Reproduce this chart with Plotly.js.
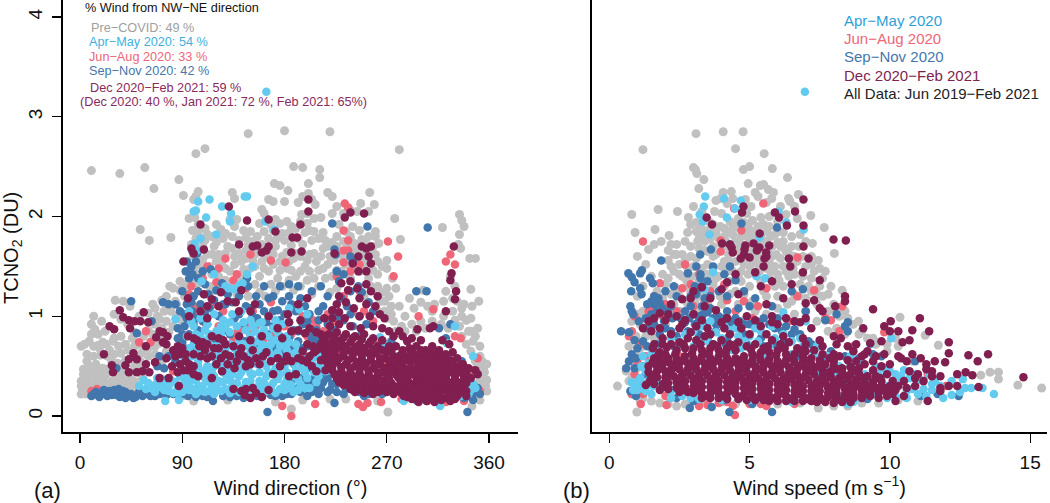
<!DOCTYPE html>
<html><head><meta charset="utf-8">
<script src="https://cdn.plot.ly/plotly-3.0.1.min.js"></script>
<style>html,body{margin:0;padding:0;background:#fff}#p{width:1050px;height:503px}</style>
</head><body><div id="p"></div>
<script>
const dirTicks=[0,90,180,270,360];
const speedTicks=[0,5,10,15];
const tcnoTicks=[0,1,2,3,4];
// Panel (a): [wind direction, TCNO2]
const preCovidDir=[[10,2.46],[35,2.43],[57,2.49],[87,2.37],[65,2.28],[91,2.21],[102,2.63],[110,2.68],[148,2.83],[180,2.86],[220,2.85],[281,2.67],[188,2.5],[196,2.49],[211,2.47],[211,2.39],[171,2.33],[176,2.31],[183,2.26],[201,2.33],[201,2.23],[218,2.24],[222,2.2],[255,2.24],[259,2.12],[247,2.13],[134,2.24],[136,2.18],[104,2.25],[102,2.2],[100,2.17],[166,2.17],[170,2.15],[180,2.15],[192,2.14],[196,2.2],[204,2.17],[207,2.12],[160,2.07],[162,2.03],[222,2.03],[232,2.03],[238,2.06],[244,2.05],[254,2.05],[277,1.98],[319,1.89],[334,2.02],[336,1.96],[338,1.9],[334,1.82],[333,1.72],[335,1.68],[343,1.58],[348,1.58],[53,1.87],[61,1.76],[80,1.79],[282,1.77],[263,1.73],[260,1.85],[260,1.8],
[96,1.98],[101,1.99],[99,1.86],[104,1.84],[106,1.78],[110,1.76],[116,1.8],[124,1.87],[128,1.83],[132,1.97],[138,1.97],[144,1.86],[150,1.85],[152,1.75],[158,1.93],[160,1.72],[164,1.97],[170,1.86],[174,1.79],[178,1.83],[182,1.95],[186,1.71],[190,1.88],[195,2.02],[200,1.93],[206,1.98],[212,1.99],[206,1.85],[214,1.84],[222,1.74],[228,1.92],[232,1.75],[238,1.8],[244,1.72],[248,1.77],[254,1.8],[258,1.7],[98,1.72],[104,1.65],[112,1.62],[118,1.7],[125,1.55],[130,1.7],[136,1.6],[142,1.55],[148,1.72],[154,1.62],[160,1.55],[166,1.66],[172,1.7],[178,1.6],[184,1.55],[190,1.63],[196,1.72],[202,1.62],[208,1.55],[214,1.68],[220,1.6],[226,1.7],[232,1.56],[238,1.62],[244,1.58],[250,1.55],[256,1.62],[262,1.55],[98,1.5],[106,1.42],[114,1.5],[122,1.4],[132,1.45],[140,1.4],[150,1.48],[158,1.4],[166,1.45],[174,1.38],[182,1.48],[190,1.4],[198,1.5],[206,1.38],[214,1.48],[222,1.4],[230,1.45],[238,1.38],[246,1.45],[254,1.38],[262,1.42],[270,1.48],[275,1.38],[278,1.28],[272,1.2],[281,1.1],[286,1.0],[294,1.08],[300,1.14],[306,1.1],[312,1.12],[322,1.25],[326,1.4],[330,1.3],[332,1.15],[338,1.12],[344,1.27],[351,1.15],[350,.88],[344,.98],[336,1.0],[328,1.05],[320,1.0],[310,.95],[300,.95],[292,.92],[283,.9],[276,.95],[268,1.05],[264,1.15],[258,1.26],[250,1.2],[342,.85],[336,.8],[346,.75],[352,.6],[358,.52],[356,.44],[358,.36],[354,.3],[358,.25],[350,.22],[345,.22],[355,.48],[348,.55],[344,.65],
[1,.7],[4,.72],[8,.75],[12,.7],[17,.68],[23,.72],[29,.75],[3,.47],[8,.5],[14,.52],[20,.48],[28,.55],[33,.53],[1,.35],[6,.38],[12,.4],[18,.36],[23,.42],[28,.35],[34,.4],[40,.38],[2,.27],[8,.25],[15,.3],[22,.28],[36,.3],[44,.3],[50,.28],[1,.22],[5,.22],[12,.21],[20,.23],[10,.92],[13,.87],[19,.95],[30,.78],[36,.8],[40,.72],[46,.78],[52,.72],[57,.7],[63,.75],[60,.86],[66,.92],[70,.97],[74,1.05],[66,1.08],[72,1.16],[77,1.12],[82,1.28],[88,1.26],[79,1.3],[85,1.0],[90,.95],[52,1.0],[38,1.15],[31,1.16],[44,1.1],[47,.6],[53,.55],[60,.6],[66,.62],[72,.55],[76,.65],[55,.4],[62,.3],[68,.25],[75,.2],[87,.2],[271,.04],[186,.07],[296,.16],[306,.17],[315,.14],[338,.16],[345,.1],[352,.16],[262,.15],[234,.17],[220,.17],[196,.16],[172,.14],[130,.16],[100,.15],[90,.2]];
const preCovidDirDense=[[1,.3],[4,.31],[7,.33],[10,.3],[14,.35],[18,.31],[22,.34],[26,.3],[30,.32],[34,.34],[38,.33],[42,.35],[46,.36],[50,.34],[3,.42],[7,.44],[11,.46],[15,.45],[19,.42],[24,.47],[30,.46],[36,.46],[40,.45],[44,.42],[48,.5],[52,.47],[57,.47],[16,.71],[20,.74],[26,.66],[34,.7],[42,.66],[48,.7],[54,.63],[60,.68],[66,.7],[70,.73],[74,.78],[78,.84],[82,.9],[72,.88],[64,.82],[56,.8],[48,.84],[42,.92],[36,.97],[30,1.02],[22,.85],[16,.82],[10,.82],[12,1.0],[6,.62],[12,.6],[18,.61],[24,.6],[30,.62],[36,.63],[6,.55],[40,.56],[76,.95],[80,1.05],[84,1.15],[76,1.2],[68,1.0],[60,1.03],[88,1.35],[92,1.32],[85,1.12],[64,1.12],
[92,1.2],[96,1.3],[100,1.36],[104,1.33],[110,1.22],[114,1.3],[118,1.26],[124,1.25],[128,1.36],[134,1.32],[138,1.22],[144,1.3],[148,1.2],[154,1.32],[158,1.24],[163,1.2],[168,1.32],[172,1.25],[178,1.3],[184,1.36],[188,1.26],[194,1.3],[200,1.36],[204,1.22],[210,1.3],[216,1.38],[220,1.24],[226,1.28],[256,1.3],[262,1.3],[266,1.24],[270,1.28],[274,1.1],[268,1.15],[262,1.05],
[100,1.46],[104,1.52],[110,1.48],[116,1.42],[120,1.55],[128,1.48],[136,1.52],[144,1.47],[146,1.58],[154,1.5],[162,1.48],[170,1.52],[176,1.46],[180,1.54],[186,1.46],[194,1.45],[202,1.45],[210,1.46],[218,1.52],[226,1.46],[234,1.52],[242,1.5],[250,1.48],[258,1.46],[266,1.5],[270,1.56],[100,1.6],[108,1.57],[116,1.62],[122,1.62],[128,1.63],[134,1.68],[140,1.63],[146,1.66],[152,1.56],[158,1.65],[164,1.6],[170,1.62],[176,1.55],[182,1.64],[188,1.58],[194,1.6],[200,1.56],[206,1.63],[212,1.6],[218,1.7],[224,1.56],[230,1.62],[236,1.7],[242,1.66],[248,1.62],[254,1.68],[260,1.62],[102,1.78],[108,1.7],[112,1.82],[120,1.74],[126,1.78],[134,1.8],[140,1.76],[146,1.79],[156,1.8],[162,1.85],[166,1.78],[172,1.76],[180,1.76],[184,1.84],[192,1.78],[198,1.84],[204,1.76],[210,1.78],[216,1.76],[226,1.8],[234,1.85],[240,1.74],[246,1.86],[252,1.72],[104,1.92],[110,1.88],[120,1.92],[136,1.9],[168,1.92],[172,1.97],[176,1.93],[186,1.9],[194,1.95],[200,2.03],[202,1.86],[226,2.1],[240,1.9],
[270,.98],[274,1.02],[278,.85],[286,.85],[296,.85],[304,.88],[310,1.05],[318,.92],[324,.88],[330,.96],[334,.9],[340,.72],[344,.85],[348,.8],[352,.7],[350,.5],[354,.55],[352,.36],[348,.3],[355,.38],[351,.27],[357,.3],[340,.96],[336,1.08],[345,1.1],[328,1.18],[320,1.15],[290,1.18],[302,1.26]];
const aprMayDir=[[164,3.25],[104,2.15],[114,2.17],[125,2.1],[133,2.03],[102,2.06],[100,2.05],[111,1.99],[132,1.95],[147,2.2],[145,2.2],[163,1.95],[171,1.87],[120,1.82],[106,1.78],[101,1.73],[103,1.66],
[107,1.35],[118,1.42],[128,1.3],[131,1.28],[136,1.27],[140,1.31],[143,1.33],[147,1.42],[152,1.5],[184,1.08],[193,1.07],[200,1.02],[96,1.05],[84,.97],[98,.95],[106,.98],[118,1.02],[126,.96],[134,1.02],[142,1.05],[150,.96],[158,.93],[166,1.0],[172,.96],[138,.9],[146,.86],[154,.85],[162,.86],[128,.88],[120,.85],[110,.86],[102,.82],[94,.8],[100,.72],[108,.74],[116,.7],[124,.76],[132,.72],[140,.74],[148,.7],[156,.75],[164,.7],[172,.76],[180,.72],[138,.62],[148,.58],[158,.6],[168,.62],[178,.58],[186,.62],[112,.58],[120,.56],[104,.55],
[56,.36],[62,.3],[68,.38],[74,.32],[80,.36],[86,.28],[92,.34],[98,.4],[104,.3],[110,.38],[116,.28],[122,.35],[128,.42],[134,.3],[140,.4],[146,.34],[152,.42],[158,.35],[164,.4],[170,.33],[176,.42],[182,.36],[188,.4],[194,.32],[200,.38],[206,.44],[212,.5],[58,.27],[66,.24],[74,.26],[82,.23],[90,.24],[96,.26],[102,.22],[110,.24],[118,.22],[124,.25],[132,.23],[140,.24],[148,.22],[156,.24],[164,.25],[172,.23],[180,.26],[188,.24],[92,.45],[100,.48],[108,.45],[116,.44],[124,.5],[132,.48],[140,.5],[148,.48],[156,.52],[164,.5],[172,.48],[180,.5],[188,.52],[196,.48],[204,.56],[210,.6],[75,.15],[87,.16],[52,.3],[264,.79],[268,.72],[280,.6],[330,.9],[323,.73],[346,.6],[346,.32],[338,.25],[335,.2],[317,.1],[285,.15]];
const aprMayDirDense=[[60,.33],[66,.31],[72,.37],[78,.3],[84,.34],[90,.3],[96,.33],[102,.36],[108,.3],[114,.34],[120,.3],[126,.34],[132,.36],[138,.33],[144,.28],[150,.35],[156,.29],[162,.33],[168,.3],[174,.37],[180,.32],[186,.31],[192,.37],[198,.28],[64,.27],[70,.29],[78,.25],[86,.23],[94,.29],[100,.27],[106,.25],[114,.25],[120,.26],[128,.27],[136,.26],[144,.25],[152,.27],[160,.28],[168,.26],[176,.27],[184,.28],[192,.26],[88,.4],[94,.4],[102,.42],[110,.43],[118,.4],[126,.44],[134,.42],[142,.44],[150,.43],[158,.44],[166,.44],[174,.46],[182,.44],[190,.46],[198,.44],[206,.5],[96,.52],[104,.5],[112,.5],[118,.5],[128,.55],[136,.54],[144,.55],[152,.56],[160,.55],[168,.56],[176,.54],[184,.56],[192,.55],[200,.58],[92,.58],[98,.6],[106,.62],[114,.64],[122,.62],[130,.62],[142,.64],[150,.64],[158,.66],[166,.66],[174,.64],[182,.66],[190,.64],[96,.68],[104,.68],[112,.76],[120,.7],[128,.68],[136,.68],[144,.72],[152,.68],[160,.72],[168,.72],[176,.7],[184,.74],[190,.72],[106,.8],[114,.82],[124,.82],[132,.84],[140,.8],[150,.8],[158,.82],[166,.8],[174,.84],[182,.8],[100,.9],[112,.92],[124,.9],[132,.94],[144,.94],[152,.9],[160,.94],[170,.88],[178,.92],[210,.4],[216,.45],[202,.28],[208,.34],[340,.34],[344,.26],[342,.22],[348,.28]];
const junAugDir=[[128,1.58],[150,1.62],[168,1.56],[181,1.54],[233,2.13],[236,2.09],[232,1.86],[236,1.76],[232,1.66],[236,1.66],[271,1.75],[280,1.6],[276,1.4],[246,1.52],[238,1.45],[322,1.55],[326,1.62],[330,1.52],[298,1.0],[311,1.07],[330,.8],[335,.78],[350,.58],[346,.46],[352,.25],[338,.15],[322,.14],[306,.15],[283,.17],[265,.14],[245,.12],[249,.09],[253,.13],[207,.12],[186,0],[178,.1],[167,.22],[232,1.2],[218,1.02],[205,.96],[196,1.0],[180,.9],[168,.78],[150,.82],[135,.76],[128,.7],[105,1.1],[96,1.22],[112,1.5],[120,1.34],[108,1.38],[138,1.42],[146,1.28],[62,.74],[52,.74],[58,.85],[15,.27],[10,.25],[26,.23],[70,.35],[82,.45],[92,.62],[114,.78],[122,.9],[140,.87],[174,.68],[195,.62],[214,.85],[225,.95],[243,.7],[270,.52],[284,.34],[290,.28],[330,.18],[100,1.1],[106,1.02],[111,.92],[118,1.12],[126,1.05],[136,.82],[146,.9],[155,.9],[162,.78],[172,.82],[186,.82],[200,.8],[208,.9],[218,.82],[228,.62],[240,1.05],[250,1.05],[258,.95],[262,.76],[98,1.3],[122,1.48],[135,1.36],[152,1.05],[168,1.14],[232,1.54],[226,1.4],[246,1.25]];
const sepNovDir=[[45,1.15],[50,.83],[32,.48],[10,.2],[14,.24],[19,.22],[22,.24],[26,.25],[30,.26],[33,.23],[36,.22],[40,.24],[43,.2],[47,.18],[50,.21],[28,.21],[24,.2],[35,.19],[40,.18],[253,1.9],[306,1.89],[238,1.6],[240,1.55],[222,1.93],[224,1.67],[225,1.62],[103,1.63],[99,1.65],[108,1.45],[115,1.47],[102,1.55],[98,1.5],[110,1.32],[125,1.33],[93,1.45],[96,1.38],[104,1.25],[100,1.2],[90,1.25],[94,1.12],[99,1.05],[106,1.12],[118,1.16],[130,1.22],[140,1.2],[147,1.38],[155,1.2],[162,1.3],[170,1.05],[178,1.15],[184,1.2],[192,1.3],[198,1.1],[204,1.25],[190,1.05],[210,1.05],[218,1.2],[228,1.35],[226,1.0],[235,1.1],[245,1.3],[254,1.14],[296,1.25],[305,1.25],[326,.92],[316,.88],[322,.78],[73,1.14],[78,1.12],[84,1.12],[63,.95],[70,.6],[78,.6],[84,.65],[74,.48],[68,.5],[92,.9],[96,.82],[104,.86],[90,.74],[112,.92],[122,1.0],[128,.86],[136,.98],[144,.93],[152,1.0],[162,1.05],[170,.9],[180,1.02],[188,.86],[196,.92],[202,.85],[210,.96],[218,.92],[224,.86],[232,.96],[240,.9],[246,.8],[252,.92],[208,.76],[200,.7],[192,.75],[184,.78],[176,.8],[165,.82],[155,.72],[145,.75],[132,.82],[120,.75],[112,.68],[196,.56],[205,.62],[186,.6],[214,.62],[198,.42],[190,.44],[202,.34],[208,.28],[214,.34],[220,.26],[226,.32],[232,.22],[240,.26],[250,.2],[258,.26],[210,.22],[200,.2],[194,.24],[186,.22],[178,.2],[168,.21],[156,.2],[144,.18],[132,.19],[117,.15],[108,.2],[95,.2],[82,.22],[70,.22],[62,.2],[165,.04],[224,.13],[297,.15],[304,.17],[341,.04],[345,.2],[350,.28],[352,.22],[346,.16],[325,.55],[270,.35],[280,.4],[274,.75]];
const sepNovDirDense=[[12,.22],[17,.19],[21,.26],[25,.22],[29,.23],[32,.21],[34,.27],[38,.25],[41,.22],[45,.22],[49,.19],[52,.24],[55,.2],[58,.22],[96,1.0],[100,.92],[94,.98],[102,.98],[108,.95],[114,1.08],[92,1.02],[98,1.14],[88,1.05],[86,.88],[90,.82],[86,.78],[92,.68],[100,.66],[84,.55],[96,.6],[110,1.02],[126,1.12],[134,1.14],[146,1.1],[158,1.12],[166,1.18],[174,1.06],[186,1.12],[194,1.18],[202,1.02],[214,1.1],[222,1.05],[230,1.18],[238,1.02],[246,1.0],[128,1.12],[140,1.02],[150,1.08],[156,.98],[164,.94],[176,.96],[184,.94],[192,.85],[200,.95],[208,.86],[216,.78],[224,.76],[212,.72],[204,.78],[196,.68],[188,.7],[180,.66],[172,.68],[220,.68],[228,.72],[214,.55],[210,.5],[204,.48],[196,.5],[212,.42],[218,.38],[206,.38],[222,.32],[194,.38],[198,.32],[186,.34],[192,.28],[204,.24],[212,.28],[218,.24],[226,.24],[234,.27],[246,.24],[254,.22],[266,.22],[182,.22],[172,.2],[160,.19],[150,.21],[138,.2],[126,.2],[112,.19],[102,.19],[90,.22],[76,.21],[66,.2],[236,.34],[228,.4],[240,.35],[344,.3],[348,.24],[342,.2],[338,.18],[330,.2],[340,.46],[336,.55],[248,1.24],[258,1.05],[94,1.55],[99,1.42],[104,1.38],[113,1.22],[120,1.26],[148,1.3],[170,1.2],[176,1.3],[184,1.32],[212,1.3],[226,1.45],[232,1.42],[238,1.25]];
const dec20Feb21Dir=[[131,2.1],[147,1.96],[106,1.92],[166,1.97],[172,1.85],[194,1.92],[201,2.17],[201,2.05],[233,1.99],[238,2.04],[250,2.03],[329,1.7],[187,1.79],[191,1.79],[186,1.64],[195,1.65],[160,1.64],[164,1.66],[140,1.72],[152,1.7],[156,1.71],[166,1.7],[98,1.68],[100,1.63],[109,1.67],[91,1.55],[248,1.7],[252,1.68],[256,1.7],[245,1.6],[254,1.6],[240,1.53],[256,1.53],[245,1.45],[252,1.45],[224,1.63],
[327,1.43],[326,1.36],[331,1.25],[330,1.17],[322,1.05],[311,.9],[308,.88],[297,.87],[288,.75],[272,.85],[281,.85],[284,.8],[319,.76],[325,.72],[21,.62],[26,.9],[30,.87],[35,1.06],[38,.99],[43,.96],[44,.88],[48,.95],[53,.95],[56,1.04],[60,.94],[58,.7],[47,.63],[50,.57],[43,.57],[28,.51],[29,.44],[40,.51],[43,.44],[50,.44],[55,.45],[58,.52],[61,.44],[67,.79],[70,.85],[73,.74],[77,.8],[73,.84],[76,.72],[70,.38],[78,.38],[66,.54],[76,.58],[82,.66],[86,.7],[90,.68],[81,.5],[88,.52],[93,.55],[86,.44],[95,.46],[87,.3],[104,.4],[100,.62],[105,.7],[110,.66],[116,.6],[95,.8],[100,.78],[103,.76],[108,.74],[112,.72],[96,1.0],[106,1.05],[95,1.18],[109,1.22],[116,1.17],[122,1.1],[130,1.15],[137,1.14],[142,1.26],[150,1.05],[122,.68],[128,.62],[120,.52],[130,.52],[136,.48],[125,.45],[116,.38],[140,.62],[148,.56],[146,.5],[135,.7],[142,.68],[155,.58],[161,.6],[168,.55],[174,.58],[180,.55],[186,.55],[192,.58],[196,.65],[170,.42],[152,.66],[178,.78],[186,.85],[192,.86],[198,.83],[200,.72],[205,.7],[212,.72],[196,.56],[212,.56],[218,.6],[224,.55],[208,.45],[216,.46],[184,.4],[190,.42],[135,.27],[142,.25],[146,.27],[152,.28],[145,.21],[150,.18],[155,.23],[160,.19],[166,.26],[183,1.02],[192,1.12],[200,1.18],
[230,1.33],[238,1.35],[244,1.28],[252,1.32],[256,1.25],[262,1.2],[228,1.2],[236,1.26],[246,1.18],[226,1.12],[234,1.14],[241,1.08],[252,1.12],[260,1.1],[264,1.02],[228,1.04],[222,.98],[233,.98],[246,1],[255,1],[268,.98],[220,.9],[228,.92],[238,.9],[247,.88],[258,.9],[266,.88],[276,.8],[292,.78],[300,.76],[212,.82],[219,.82],[226,.84],[234,.82],[242,.8],[250,.82],[258,.78],[266,.76],[272,.7],[214,.76],[222,.74],[230,.76],[238,.74],[246,.72],[254,.72],[262,.7],[270,.64],[278,.7],[284,.66],[212,.68],[220,.67],[228,.69],[236,.66],[244,.65],[252,.64],[260,.63],[268,.58],[276,.6],[290,.68],[296,.7],[304,.66],[310,.7],[316,.66],[322,.62],[328,.64],[216,.6],[224,.62],[232,.6],[240,.58],[248,.57],[256,.56],[264,.52],[272,.5],[282,.56],[288,.6],[294,.62],[300,.6],[306,.6],[312,.6],[318,.58],[326,.56],[332,.58],[337,.52],[218,.53],[226,.54],[234,.52],[242,.5],[250,.5],[258,.48],[266,.44],[276,.48],[284,.5],[291,.54],[298,.52],[304,.53],[310,.52],[316,.52],[322,.5],[330,.5],[342,.48],[348,.46],[222,.46],[230,.45],[238,.44],[246,.43],[254,.41],[262,.4],[270,.38],[278,.42],[286,.43],[292,.46],[300,.46],[306,.45],[312,.45],[318,.44],[326,.44],[334,.44],[340,.42],[350,.42],[226,.38],[234,.37],[242,.36],[250,.35],[258,.34],[266,.32],[274,.33],[282,.36],[288,.37],[296,.39],[302,.38],[310,.38],[316,.37],[322,.38],[330,.37],[338,.36],[232,.31],[240,.3],[248,.29],[256,.28],[264,.25],[272,.27],[280,.29],[286,.3],[294,.32],[300,.31],[308,.31],[314,.3],[320,.31],[328,.3],[336,.3],[242,.24],[250,.23],[258,.22],[276,.22],[283,.23],[290,.25],[298,.25],[304,.25],[312,.24],[318,.25],[326,.24],[334,.23],[340,.25],[288,.19],[295,.18],[302,.19],[308,.18],[314,.19],[322,.18],[330,.17],[298,.14],[305,.15],[312,.14]];
const dec20Feb21DirDense=[[216,.79],[224,.79],[232,.79],[240,.78],[248,.77],[256,.75],[218,.71],[226,.72],[234,.7],[242,.69],[250,.68],[258,.67],[266,.66],[274,.65],[282,.61],[216,.64],[224,.65],[232,.64],[240,.62],[248,.61],[256,.6],[264,.58],[272,.56],[280,.58],[292,.65],[300,.66],[308,.64],[314,.63],[320,.6],[220,.57],[228,.58],[236,.56],[244,.54],[252,.53],[260,.52],[268,.48],[278,.53],[286,.56],[294,.57],[302,.56],[308,.56],[314,.56],[320,.54],[328,.52],[334,.5],[222,.5],[230,.49],[238,.48],[246,.47],[254,.45],[262,.44],[270,.42],[274,.44],[282,.46],[288,.47],[296,.48],[303,.49],[309,.48],[315,.48],[320,.47],[328,.46],[336,.47],[224,.42],[232,.41],[240,.4],[248,.39],[256,.38],[264,.36],[272,.37],[280,.39],[286,.4],[292,.42],[298,.43],[304,.42],[310,.42],[316,.41],[322,.41],[330,.41],[338,.4],[344,.38],[228,.34],[236,.33],[244,.32],[252,.31],[260,.3],[268,.29],[276,.3],[282,.32],[290,.33],[298,.35],[304,.35],[312,.34],[318,.34],[324,.34],[332,.34],[340,.33],[238,.27],[246,.26],[254,.25],[262,.24],[270,.24],[279,.25],[287,.27],[292,.29],[297,.28],[304,.28],[310,.27],[316,.28],[323,.27],[331,.27],[292,.22],[298,.21],[304,.22],[310,.21],[316,.22],[324,.21],[332,.2],[340,.2],[285,.2],[292,.17],[318,.16],[326,.15],
[106,.6],[112,.58],[118,.68],[124,.58],[132,.6],[138,.55],[144,.6],[150,.52],[158,.52],[164,.64],[176,.5],[182,.6],[202,.6],[206,.64],[216,.8],[200,.54],[204,.5],[128,.72],[116,.8],[122,.78],[112,.98],[88,.62],[93,.62],[84,.6],[96,.52],[100,.5],[91,.46],[100,.42],[194,.96],[202,.88],[208,.84],[215,.98],[222,1.06],[208,.66],[124,1.24],[112,1.1],[140,1.05],[154,1.12],[166,1.0],[174,.88],[184,.94],[160,.8],[150,.76],[140,.8],[126,.76]];
// Panel (b): [wind speed, TCNO2]
const preCovidSpd=[[3.09,2.83],[4.06,2.85],[4.77,2.85],[1.2,2.67],[4.5,2.68],[5.52,2.63],[3,2.49],[3.07,2.47],[3.12,2.43],[3.37,2.37],[4.78,2.47],[5,2.5],[5.81,2.48],[6.35,2.39],[4.95,2.33],[5.5,2.32],[5.38,2.31],[3.19,2.28],[5.67,2.27],[5.85,2.24],[5.2,2.24],[4.06,2.24],[4.35,2.25],[3.97,2.18],[6.74,2.22],[6.39,2.18],[6.44,2.15],[5.79,2.18],[.8,2.02],[1.74,2.07],[2.43,2.05],[2.82,1.99],[3.75,2.05],[7.18,2.01],[.92,1.84],[1.63,1.87],[2.13,1.81],[2.79,1.84],[7.66,1.89],[8.02,1.63],[7.24,1.73],[15.41,.28],[14.56,.31],[13.87,.37],[13.87,.44],[13.57,.44],[13.24,.41],[11.73,.71],[11.26,.81],[10.36,.99],[8.88,.95],[8.3,1.26],[7.45,1.56],[.98,.04],[.29,.3],[3,2.1],[3.3,2.05],[3.8,2.16],[4.2,2.13],[4.4,2.18],[4.85,2.17],[5.05,2.1],[5.3,2.2],[5.6,2.14],[6.1,2.1],[6.6,2.1],[2.9,1.92],[3.1,1.94],[3.4,1.98],[3.7,1.92],[4,2.03],[4.3,1.95],[4.6,1.98],[4.9,2.03],[5.1,1.96],[5.4,1.99],[5.7,2],[6,1.95],[6.3,2.02],[6.7,1.98],[1.4,1.67],[1.6,1.72],[1.85,1.75],[2.1,1.66],[2.4,1.62],[2.7,1.55],[2.9,1.7],[3.2,1.78],[3.5,1.86],[3.8,1.84],[4.1,1.88],[4.4,1.82],[4.7,1.8],[5,1.86],[5.3,1.9],[5.6,1.85],[5.9,1.82],[6.2,1.84],[6.5,1.8],[6.8,1.82],[7,1.75],[7.2,1.6],[1,1.6],[1.3,1.52],[1.5,1.4],[1.9,1.42],[2.2,1.5],[2.5,1.42],[2.8,1.48],[3.1,1.58],[3.4,1.66],[3.7,1.6],[4,1.72],[4.3,1.64],[4.6,1.65],[4.9,1.7],[5.2,1.62],[5.5,1.68],[5.8,1.6],[6.1,1.7],[6.4,1.62],[6.7,1.55],[7,1.5],[7.3,1.45],[7.6,1.38],[7.9,1.3],[2,1.32],[2.4,1.28],[2.8,1.3],[3.2,1.36],[3.6,1.42],[4,1.5],[4.4,1.45],[4.8,1.52],[5.2,1.42],[5.6,1.48],[6,1.42],[6.4,1.4],[6.8,1.32],[7.2,1.25],[7.6,1.2],[8,1.12],[8.4,1.05],[8.7,.92],[9,.85],[9.4,.78],[9.9,.65],[10.3,.7],[10.8,.55],[1,1.2],[1.2,1.05],[1.6,1.15],[.8,.95],[.95,.8],[.7,.7],[.95,.62],[.6,.45],[.8,.38],[.8,.22],[1.2,.18],[1.8,.13],[2.4,.1],[2.9,.13],[3.5,.13],[4.5,.12],[6,.12],[7.45,.08],[8.5,.1],[9.6,.13],[11,.15],[5.5,1.25],[6.5,1.15],[4.5,1.25],[3.5,1.2]];
const preCovidSpdDense=[[3.1,1.85],[3.3,1.82],[3.2,1.68],[3.4,1.75],[3.6,1.78],[3.5,1.65],[3.7,1.7],[3.9,1.78],[3.8,1.62],[4.1,1.8],[4.2,1.7],[4.3,1.85],[4.5,1.75],[4.5,1.9],[4.7,1.72],[4.8,1.94],[4.9,1.8],[5,1.65],[5.1,1.78],[5.2,1.85],[5.3,1.72],[5.4,1.8],[5.5,1.92],[5.6,1.75],[5.7,1.9],[5.8,1.7],[6,1.74],[6,1.85],[6.2,1.75],[6.3,1.65],[6.5,1.7],[6.6,1.6],[2.2,1.72],[2.4,1.72],[2.6,1.62],[2.7,1.75],[2.9,1.6],[2.5,1.52],[2.3,1.45],[2.9,1.4],[3,1.5],[3.3,1.48],[3.5,1.52],[3.7,1.48],[3.9,1.4],[4.1,1.55],[4.3,1.55],[4.5,1.55],[4.7,1.45],[5,1.5],[5.1,1.58],[5.3,1.52],[5.5,1.58],[5.7,1.54],[5.9,1.5],[6.2,1.5],[6.6,1.42],[6.9,1.4],[7.2,1.38],[7.5,1.3],[7.8,1.22],[8.1,1.05],[2.1,1.38],[2.5,1.2],[2.9,1.25],[3.3,1.2],[3.7,1.32],[4.1,1.3],[4.3,1.35],[4.7,1.35],[5,1.3],[5.4,1.35],[5.7,1.38],[5.9,1.3],[6.2,1.3],[6.6,1.22],[7,1.18],[7.4,1.12],[7.8,1.05],[8.2,1],[8.5,.98],[8.9,.82],[9.2,.78],[9.5,.72],[9.9,.72],[10.2,.78],[1.2,1.3],[1.7,1.25],[1.9,1.18],[2.2,1.22],[2.5,1.05],[2.8,1.12],[3.2,1.05],[4,1.12],[4.6,1.12],[5.2,1.05],[5.6,1.02],[6,1.08],[6.6,1.02],[7,1.05],[7.4,.95],[7.8,.85],[8.1,.88],[8.4,.82],[1,1.02],[1.1,.92],[1.3,.8],[1.6,.78],[1.1,.68],[.8,.55],[1,.48],[.7,.35],[1.1,.15],[1.5,.15],[2.1,.12],[2.7,.12],[3.2,.14],[4,.14],[5,.14],[5.5,.13],[6.8,.13],[8,.1],[9,.13],[10.3,.16],[7.5,1.48],[7.2,1.52],[6.9,1.6],[7.7,1.45],[1.3,.98],[2,.92],
[3.15,1.75],[3.25,1.9],[3.55,1.95],[3.65,1.85],[3.95,1.9],[4.15,1.75],[4.25,1.62],[4.4,1.92],[4.55,1.68],[4.65,1.88],[4.75,1.58],[4.95,1.9],[5.05,1.75],[5.2,1.55],[5.35,1.62],[5.45,1.72],[5.65,1.65],[5.75,1.8],[5.95,1.62],[6.1,1.58],[6.25,1.68],[6.45,1.55],[6.55,1.48],[6.75,1.7],[2.1,1.56],[2.3,1.62],[2.6,1.4],[2.75,1.36],[3.1,1.4],[3.45,1.42],[3.8,1.38],[4.2,1.45],[4.6,1.4],[4.95,1.42],[5.35,1.45],[5.75,1.45],[6.05,1.36],[6.3,1.45],[6.75,1.2],[7.1,1.3],[7.4,1.22],[1.6,1.02],[2.3,1.12],[3.05,1.15],[3.5,1.12],[3.95,1.2],[4.3,1.22],[4.8,1.22],[5.1,1.15],[5.6,1.2],[6,1.2],[6.35,1.12]];
const aprMaySpd=[[6.97,3.25],[3.42,2.2],[4.09,2.18],[4.69,2.16],[3.37,2.1],[4.48,2.08],[3.22,2.02],[4.19,1.99],[3.33,1.95],[6.03,2.05],[6.31,1.94],[6.93,1.87],[3.57,1.82],[5.35,1.79],[5.25,1.4],[5.55,1.38],[3.7,1.44],[6.2,1.04],[7.0,.95],[3.4,1.27],[13.71,.22],[11.9,.18],[12.68,.28],[12.2,.35],[12.6,.37],[13.3,.28],[12.2,.21],[12.5,.24],[11.6,.35],[10.05,.78],[9.3,.72],[1,.33],[.9,.3],[.8,.34],[1.1,.28],[1.3,.25],[1.5,.22],[1.8,.27],[2.2,.25],[2.6,.2],[3.2,.17],[3.6,.22],[4.2,.18],[5.4,.17],[6,.15],[7,.18],[8.5,.12],[8.9,.18],[9.5,.22],[10.2,.2],[10.8,.27],[11.2,.27],[11.5,.26],[1.7,.35],[1.3,.45],[1.4,.53],[1.2,.6],[1.6,.66],[2,.55],[2.5,.75],[3,.85],[3.3,.9],[3.6,.95],[4,.78],[4.5,.88],[4.8,.75],[5,.8],[5.4,.85],[5.8,.9],[6.2,.82],[6.5,.75],[6.9,.7],[7.3,.62],[7.8,.6],[8.2,.5],[8.7,.45],[9.1,.42],[9.6,.42],[10,.45],[10.4,.4],[10.7,.38],[11.1,.36],[4.4,.66],[3.4,.62],[5.6,.62],[6.6,.52],[7.5,.43],[8.4,.35],[9.4,.3],[10.6,.25],[11.5,.32],[2.9,.45],[4.8,.42],[6.2,.35],[7.8,.28],[5.2,.52],[1,.26],[1.4,.35],[2,.3],[2.6,.4],[3,.7],[3.5,.75],[4.1,.9],[4.7,.68],[5.1,.7],[5.3,.75],[5.9,.78],[6.5,.62],[7,.55],[7.7,.5],[8.1,.42],[8.8,.36],[9.3,.38],[9.9,.3],[10.2,.35],[10.9,.3],[11.3,.2],[11.8,.3],[12.9,.28],
[1.1,.38],[1.25,.32],[.85,.26],[1.55,.3],[1.15,.5],[1.5,.62],[2.2,.78],[2.7,.82],[3.2,.74],[3.8,.84],[4.3,.86],[4.6,.8],[5.2,.88],[5.7,.7],[6.1,.68],[6.8,.78],[7.4,.7],[8,.58],[8.6,.6],[9,.54],[9.5,.5],[9.8,.48],[10.2,.42],[10.5,.46],[10.9,.42],[11.4,.42],[9.9,.18],[10.6,.18],[11,.22],[8.7,.14],[7.6,.17],[6.5,.14],[5,.16],[4,.16],[2.9,.18],[2.2,.18]];
const junAugSpd=[[1.2,1.75],[5.49,2.13],[4.45,2.08],[4.71,1.86],[3.97,1.76],[3.97,1.65],[6.71,1.59],[2.7,1.52],[1.8,1.33],[2.6,1.28],[3.2,1.42],[.9,1],[1.4,1.05],[1.55,1.08],[1.9,1],[3,1.1],[3.6,1.25],[4.2,1.16],[4.8,1.15],[5.6,1.28],[6.7,1.2],[8.3,1.1],[7.9,.96],[7.7,.98],[9.8,.84],[8.2,.85],[.8,.85],[.7,.8],[1.1,.72],[.9,.28],[.8,.22],[1.2,.22],[1.12,.12],[2.04,.11],[3.2,.1],[3.9,.13],[4.48,.01],[4.4,.1],[5.4,.12],[5.6,.1],[6.6,.12],[2.5,.6],[3.8,.96],[5.1,.98],[6.4,.95],[7.5,.75],[11.35,.42],[9.5,.48],[12,.3],[2,.2],[7.3,1.26],[8.7,.7],[4.1,1.32],[1.6,1.2],[2,1.12],[2.4,1.05],[2.9,1.32],[3.4,1.15],[4.5,1.05],[5.3,1.1],[1.3,.6],[1,.55],[.9,.42],[7.2,.15],[5,.12],[4.2,.14],[3.5,.11]];
const sepNovSpd=[[4.71,1.93],[5.98,1.89],[3.62,1.67],[4.3,1.72],[1.85,1.56],[3.24,1.62],[.68,1.43],[.8,1.39],[1.16,1.46],[1.1,1.43],[.9,1.34],[.78,1.25],[1.45,1.38],[1.55,1.33],[1.1,1.28],[1.15,1.22],[1.6,1.2],[.75,1.1],[.8,1.05],[.85,1.02],[1.5,1.15],[1.6,1.12],[1.8,1.13],[2.2,1.1],[2.4,1.2],[2.8,1.43],[3.1,1.5],[3.25,1.42],[3.25,1.38],[3.05,1.3],[3.5,1.35],[3.7,1.5],[4.1,1.42],[4.3,1.5],[4.5,1.36],[3.6,1.2],[3.9,1.25],[3.1,1.22],[2.9,1.2],[3.3,1.1],[3.6,1.08],[4.2,1.05],[4.6,1.08],[5,1.1],[5.2,1.18],[5.8,1.1],[6.5,1.25],[6.9,1.27],[7,1.05],[7.7,.96],[8.1,1.02],[8.4,.9],[8.5,.94],[8.5,.85],[.42,.85],[.7,.84],[.9,.76],[1.25,.88],[1.6,.92],[2.2,.85],[2.7,.94],[3.2,1],[3.4,.92],[3.9,1],[4.4,.92],[5.2,.9],[5.9,.88],[6.6,.87],[7.5,.7],[.95,.58],[1.2,.5],[.6,.48],[.9,.48],[1.3,.42],[1.4,.32],[.75,.25],[.95,.2],[1,.28],[2.2,.26],[2.87,.08],[3.65,.09],[4.28,.04],[5.8,.04],[2.4,.18],[3,.15],[4.1,.16],[5.1,.12],[6.5,.16],[8.2,.18],[9.2,.17],[11.7,.22],[12.45,.2],[10.9,.55],[9.7,.6],[6.7,.6],[5.9,.72],[4.5,.72],[3.5,.78],[2.3,.7],[1.7,.72],[7.1,.75],[8.6,.5],[7,.5],[11.1,.2],[1.5,1.02],[1.7,1.05],[1.9,1.08],[2.1,1.04],[2.4,1],[2.7,1.05],[3,1.02],[3.2,.96],[3.5,1.04],[3.8,.92],[4.1,.98],[4.5,.98],[4.8,.92],[5.2,.95],[5.5,.98],[6,.98],[6.3,.9],[6.8,.82],[1.3,.98],[1.5,.9],[1.8,.82],[2,.88],[2.4,.8],[2.8,.85],[3.2,.82],[3.8,.85],[4.2,.78],[4.8,.82],[5.4,.78],[6.2,.74],[6.9,.64],[7.6,.6],[2.9,1.1],[3.2,1.28],[3.3,1.3],[3.4,1.18],[4.2,1.2],[4.8,1.25],[2.3,1.3],[2,1.25],
[1.35,1.12],[1.75,1.18],[1.95,.95],[2.25,.98],[2.55,.98],[2.85,.98],[3.05,.92],[3.35,1.02],[3.7,.98],[4,.92],[4.3,.95],[4.65,.95],[5,.92],[5.35,.94],[5.7,.92],[6.15,.85],[6.5,.82],[7.2,.72],[7.9,.65],[1.05,.95],[1.2,.75],[1.35,.7],[1.55,.65],[.8,.62],[.7,.55],[1,.68],[2.6,.72],[3.1,.72],[3.7,.72],[4.15,.72],[4.9,.72],[5.5,.7],[8.4,.6],[8.9,.58],[9.4,.62]];
const dec20Feb21Spd=[[6.92,2.17],[4.78,2.1],[4.73,2.04],[5.9,2.04],[6.62,2.05],[6.05,1.99],[3.47,1.99],[3.66,1.92],[6.33,1.91],[6.92,1.91],[5.36,1.83],[7.99,1.77],[8.43,1.76],[6.92,1.7],[4.02,1.73],[4.3,1.72],[4.36,1.69],[4.4,1.64],[4.85,1.71],[4.82,1.67],[4.8,1.62],[5.14,1.73],[5.35,1.69],[5.26,1.66],[5.7,1.71],[5.59,1.64],[4.68,1.58],[5,1.59],[5.53,1.58],[6.4,1.58],[7.1,1.58],[6.45,1.5],[6.9,1.44],[7.5,1.36],[6.5,1.32],[5.5,1.5],[5.6,1.6],[5.2,1.44],[4.5,1.42],[4.2,1.34],[3.3,1.29],[3.6,1.18],[4,1.27],[4.6,1.22],[5.4,1.3],[5.8,1.35],[3,1.25],[2.6,1.17],[2.9,1.18],[3.4,1.1],[2.2,1.12],[1.8,1.03],[2.1,1.02],[5.6,1.12],[6.2,1.18],[7,1.13],[7.3,1.16],[7.5,1.08],[8.05,1.1],[8.4,1.15],[8.4,1.2],[9.4,1.07],[7.6,1.05],[7,.98],[6.8,.94],[6.3,.98],[5.8,1],[4.9,1],[4.2,.98],[3.8,1.06],[3,1.02],[2.7,.96],[2.4,1],[2,.96],[1.6,.98],[1.4,.95],[1.2,.88],[1.5,.85],[1.8,.88],[2.5,.88],[3.1,.9],[3.5,.88],[4.1,.88],[4.7,.88],[5.4,.9],[6,.92],[6.6,.95],[7.2,.88],[8,.8],[8.25,.78],[8.5,.7],[9.05,.88],[9.3,.73],[9.7,.75],[10.03,.95],[9.8,.9],[10.3,.85],[10,.85],[10.8,.86],[11.07,.98],[11.4,.85],[10.7,.76],[10.45,.74],[12.1,.74],[12.1,.63],[11.97,.54],[11.6,.55],[10.4,.58],[10.8,.62],[11.1,.58],[9.5,.6],[9.2,.65],[8.7,.65],[8,.62],[7.6,.62],[7,.65],[12.8,.61],[13.5,.62],[13.13,.55],[12.7,.44],[12.4,.42],[12.94,.41],[13.16,.29],[14.76,.39],[12.4,.3],[12.1,.3],[11.8,.4],[11.8,.28],[11.5,.45],[11.3,.47],[11,.42],[10.7,.45],[10.5,.35],[10.9,.3],[11.35,.15],[11.8,.25],[10.3,.3],[10.5,.2],[10.2,.15],
[1.6,.72],[2.2,.72],[2.8,.78],[3.4,.8],[4,.76],[4.6,.74],[5.2,.72],[5.8,.76],[6.4,.74],[7,.72],[7.6,.7],[1.8,.64],[2.4,.66],[3,.68],[3.6,.68],[4.2,.68],[4.8,.6],[5.4,.64],[6,.66],[6.6,.62],[7.2,.58],[8.2,.6],[8.8,.55],[9.4,.55],[10,.52],[1.6,.58],[2.1,.58],[2.7,.6],[3.3,.6],[3.9,.6],[4.5,.58],[5.1,.56],[5.7,.57],[6.3,.56],[6.9,.54],[7.7,.52],[8.3,.48],[8.9,.48],[9.4,.46],[9.9,.42],[1.4,.5],[1.9,.52],[2.5,.53],[3.1,.53],[3.7,.53],[4.3,.52],[4.9,.5],[5.5,.5],[6.1,.5],[6.7,.47],[7.3,.48],[7.9,.45],[8.6,.42],[9.2,.4],[9.7,.35],[10.1,.35],[1.7,.45],[2.2,.46],[2.8,.47],[3.4,.47],[4,.47],[4.6,.45],[5.2,.44],[5.8,.44],[6.4,.43],[7,.42],[7.6,.4],[8.2,.38],[8.8,.36],[9.4,.34],[1.5,.38],[2,.39],[2.6,.41],[3.2,.41],[3.8,.41],[4.4,.4],[5,.38],[5.6,.38],[6.2,.37],[6.8,.36],[7.4,.35],[8,.33],[8.6,.31],[9.2,.29],[9.8,.28],[10.2,.26],[1.3,.31],[1.9,.32],[2.4,.34],[3,.35],[3.6,.35],[4.2,.34],[4.8,.33],[5.4,.32],[6,.32],[6.6,.31],[7.2,.3],[7.8,.28],[8.4,.27],[9,.25],[9.6,.23],[1.8,.26],[2.7,.29],[3.3,.29],[3.9,.29],[4.5,.28],[5.1,.27],[5.7,.26],[6.3,.26],[6.9,.25],[7.5,.25],[8.1,.23],[8.7,.22],[9.3,.2],[9.9,.2],[2.5,.24],[3,.23],[3.6,.23],[4.2,.23],[4.8,.22],[5.4,.21],[6,.2],[6.6,.2],[7.2,.2],[7.8,.19],[8.4,.18],[9,.18],[3.3,.18],[3.9,.18],[4.6,.17],[5.2,.16],[5.7,.15],[6.3,.15],[6.9,.15],[7.4,.14],[8,.13],[8.6,.14]];
const dec20Feb21SpdDense=[[1.9,.72],[2.5,.74],[3.1,.76],[3.7,.72],[4.3,.72],[4.9,.7],[5.5,.68],[6.1,.72],[6.7,.68],[7.3,.66],[2,.62],[2.7,.68],[3.3,.66],[3.9,.66],[4.5,.66],[5.1,.62],[5.7,.64],[6.3,.62],[6.9,.6],[7.5,.56],[8,.55],[8.5,.56],[9,.6],[9.7,.5],[1.8,.56],[2.4,.57],[3,.58],[3.6,.58],[4.2,.58],[4.8,.55],[5.4,.56],[6,.55],[6.6,.54],[7.2,.52],[8,.5],[8.6,.49],[9.1,.52],[1.7,.5],[2.2,.52],[2.8,.53],[3.4,.53],[4,.53],[4.6,.51],[5.2,.5],[5.8,.5],[6.4,.49],[7,.48],[7.6,.46],[8.3,.44],[8.9,.42],[9.5,.4],[1.4,.44],[2,.45],[2.5,.47],[3.1,.47],[3.7,.47],[4.3,.46],[4.9,.44],[5.5,.44],[6.1,.44],[6.7,.41],[7.3,.42],[7.9,.39],[8.5,.37],[9.1,.34],[9.7,.3],[1.7,.39],[2.3,.4],[2.9,.41],[3.5,.41],[4.1,.41],[4.7,.39],[5.3,.38],[5.9,.38],[6.5,.37],[7.1,.36],[7.7,.34],[8.3,.32],[8.9,.3],[9.5,.28],[10,.3],[1.6,.32],[2.1,.33],[2.7,.35],[3.3,.35],[3.9,.35],[4.5,.34],[5.1,.33],[5.7,.32],[6.3,.32],[6.9,.3],[7.5,.3],[8.1,.28],[8.7,.27],[9.3,.25],[9.9,.25],[2.1,.27],[3,.29],[3.6,.29],[4.2,.29],[4.8,.28],[5.4,.27],[6,.26],[6.6,.25],[7.2,.25],[7.8,.23],[8.4,.22],[9,.2],[9.6,.18],[2.4,.28],[2.8,.24],[3.3,.23],[3.9,.23],[4.5,.22],[5.1,.21],[5.7,.2],[6.3,.2],[6.9,.2],[7.5,.19],[8.1,.18],[8.7,.18],[3.6,.18],[4.2,.17],[4.9,.16],[5.5,.16],[6,.15],[6.6,.15],[7.2,.15],[7.7,.14],[8.3,.14],
[2.2,.82],[2.9,.84],[3.6,.82],[4.3,.82],[5,.82],[5.6,.82],[6.2,.8],[6.9,.78],[7.5,.76],[8.1,.72],[8.8,.72],[2.6,.92],[3.3,.96],[4,.94],[4.6,.94],[5.2,.96],[5.8,.94],[1.9,.78],[9.1,.62],[9.8,.62],[10.3,.6],[10.6,.55],[11.3,.52],[11.5,.4],[11.2,.35],[10.6,.28],[10.1,.22],[10.9,.38],
[1.55,.68],[2.05,.69],[2.65,.72],[3.25,.72],[3.85,.7],[4.45,.7],[5.05,.67],[5.65,.7],[6.25,.68],[6.85,.66],[1.75,.61],[2.35,.62],[2.95,.63],[3.55,.63],[4.15,.63],[4.75,.57],[5.35,.6],[5.95,.61],[6.55,.58],[7.15,.56],[7.85,.58],[1.55,.54],[2.05,.55],[2.65,.56],[3.25,.56],[3.85,.56],[4.45,.55],[5.05,.53],[5.65,.54],[6.25,.53],[6.85,.51],[7.45,.5],[8.15,.47],[8.75,.46],[1.85,.48],[2.35,.49],[2.95,.5],[3.55,.5],[4.15,.5],[4.75,.48],[5.35,.47],[5.95,.47],[6.55,.45],[7.15,.45],[7.75,.43],[8.45,.4],[9.05,.38],[9.65,.38],[1.55,.41],[2.15,.42],[2.75,.44],[3.35,.44],[3.95,.44],[4.55,.42],[5.15,.41],[5.75,.41],[6.35,.4],[6.95,.39],[7.55,.37],[8.15,.35],[8.75,.33],[9.35,.31],[1.45,.35],[2.05,.36],[2.55,.38],[3.15,.38],[3.75,.38],[4.35,.37],[4.95,.35],[5.55,.35],[6.15,.35],[6.75,.33],[7.35,.32],[7.95,.3],[8.55,.29],[9.15,.27],[9.75,.26],[1.95,.29],[2.55,.31],[3.15,.32],[3.75,.32],[4.35,.31],[4.95,.3],[5.55,.29],[6.15,.29],[6.75,.28],[7.35,.27],[7.95,.25],[8.55,.24],[9.15,.23],[2.65,.26],[3.15,.26],[3.75,.26],[4.35,.26],[4.95,.25],[5.55,.24],[6.15,.23],[6.75,.22],[7.35,.22],[7.95,.21],[8.55,.2],[3.45,.2],[4.05,.2],[4.65,.19],[5.25,.18],[5.85,.18],[6.45,.17],[7.05,.17],[7.65,.16],[8.25,.16]];

const xy=(rows,i)=>rows.map(r=>r[i]);
const colors={pre:'#c0c0c0',apr:'#62cbef',jun:'#ee6677',sep:'#4277ad',dec:'#801f50'};
function series(name,rows,color,size,xa,ya){
  return {type:'scatter',mode:'markers',name:name,x:xy(rows,0),y:xy(rows,1),xaxis:xa,yaxis:ya,showlegend:false,
    marker:{color:color,size:size,line:{width:0}}};
}
const traces=[
 series('Pre-COVID',preCovidDir.concat(preCovidDirDense),colors.pre,9,'x','y'),
 series('Jun–Aug 2020',junAugDir,colors.jun,8.5,'x','y'),
 series('Sep–Nov 2020',sepNovDir.concat(sepNovDirDense),colors.sep,8.5,'x','y'),
 series('Apr–May 2020',aprMayDir.concat(aprMayDirDense),colors.apr,8.5,'x','y'),
 series('Dec 2020–Feb 2021',dec20Feb21Dir.concat(dec20Feb21DirDense),colors.dec,8.5,'x','y'),
 series('Pre-COVID',preCovidSpd.concat(preCovidSpdDense),colors.pre,9,'x2','y2'),
 series('Jun–Aug 2020',junAugSpd,colors.jun,8.5,'x2','y2'),
 series('Sep–Nov 2020',sepNovSpd,colors.sep,8.5,'x2','y2'),
 series('Apr–May 2020',aprMaySpd,colors.apr,8.5,'x2','y2'),
 series('Dec 2020–Feb 2021',dec20Feb21Spd.concat(dec20Feb21SpdDense),colors.dec,8.5,'x2','y2')
];
const W=1050,H=503,F='"Liberation Sans",Arial,Helvetica,sans-serif';
function note(text,px,py,size,color,opts){
  return Object.assign({text:text,xref:'paper',yref:'paper',x:px/W,y:1-py/H,xanchor:'left',yanchor:'middle',showarrow:false,
    font:{family:F,size:size,color:color}},opts||{});
}
const axisBase={showline:true,linecolor:'#000',linewidth:2,showgrid:false,zeroline:false,ticks:'outside',ticklen:9,tickwidth:1.3,tickcolor:'#000',
  tickfont:{family:F,size:19,color:'#111'},mirror:false};
const layout={width:W,height:H,margin:{l:0,r:0,t:0,b:0,pad:0},paper_bgcolor:'#fff',plot_bgcolor:'#fff',showlegend:false,font:{family:F},
 xaxis:Object.assign({},axisBase,{domain:[63/W,518/W],range:[-15,385.5],tickmode:'array',tickvals:dirTicks,ticktext:dirTicks.map(String),anchor:'y',ticklabelstandoff:3,
   title:{text:'Wind direction (°)',font:{family:F,size:20,color:'#111'},standoff:9}}),
 yaxis:Object.assign({},axisBase,{domain:[1-432/H,1],range:[-0.16,4.17],tickmode:'array',tickvals:tcnoTicks,ticktext:tcnoTicks.map(String),tickangle:-90,anchor:'x',ticklabelstandoff:2}),
 xaxis2:Object.assign({},axisBase,{domain:[592/W,1047/W],range:[-0.617,15.6],tickmode:'array',tickvals:speedTicks,ticktext:speedTicks.map(String),anchor:'y2',ticklabelstandoff:3,
   title:{text:'Wind speed (m s<sup>−1</sup>)',font:{family:F,size:20,color:'#111'},standoff:9}}),
 yaxis2:Object.assign({},axisBase,{domain:[1-432/H,1],range:[-0.16,4.17],ticks:'',showticklabels:false,anchor:'x2'}),
 annotations:[
  note('% Wind from NW−NE direction',83,8,12.7,'#111'),
  note('Pre−COVID: 49 %',89,28,12.7,'#a0a0a0'),
  note('Apr−May 2020: 54 %',87,41.5,12.7,'#3fb0e0'),
  note('Jun−Aug 2020: 33 %',87,56.5,12.7,'#ee6677'),
  note('Sep−Nov 2020: 42 %',86.5,71.5,12.7,'#4477aa'),
  note('Dec 2020−Feb 2021: 59 %',87.5,87.5,12.7,'#8a2a5c'),
  note('(Dec 2020: 40 %, Jan 2021: 72 %, Feb 2021: 65%)',77.5,102,12.7,'#8a2a5c'),
  note('Apr−May 2020',842,20.5,15,'#2f9fd8'),
  note('Jun−Aug 2020',842,38.5,15,'#ee6677'),
  note('Sep−Nov 2020',842,56.5,15,'#4477aa'),
  note('Dec 2020−Feb 2021',842,75,15,'#801f50'),
  note('All Data: Jun 2019−Feb 2021',842,93,15,'#222'),
  note('(a)',32,490,22,'#111'),
  note('(b)',561,490,22,'#111'),
  note('TCNO<sub>2</sub> (DU)',12,248,20,'#111',{xanchor:'center',textangle:-90})
 ]
};
Plotly.newPlot('p',traces,layout,{displayModeBar:false,staticPlot:true});
</script></body></html>
